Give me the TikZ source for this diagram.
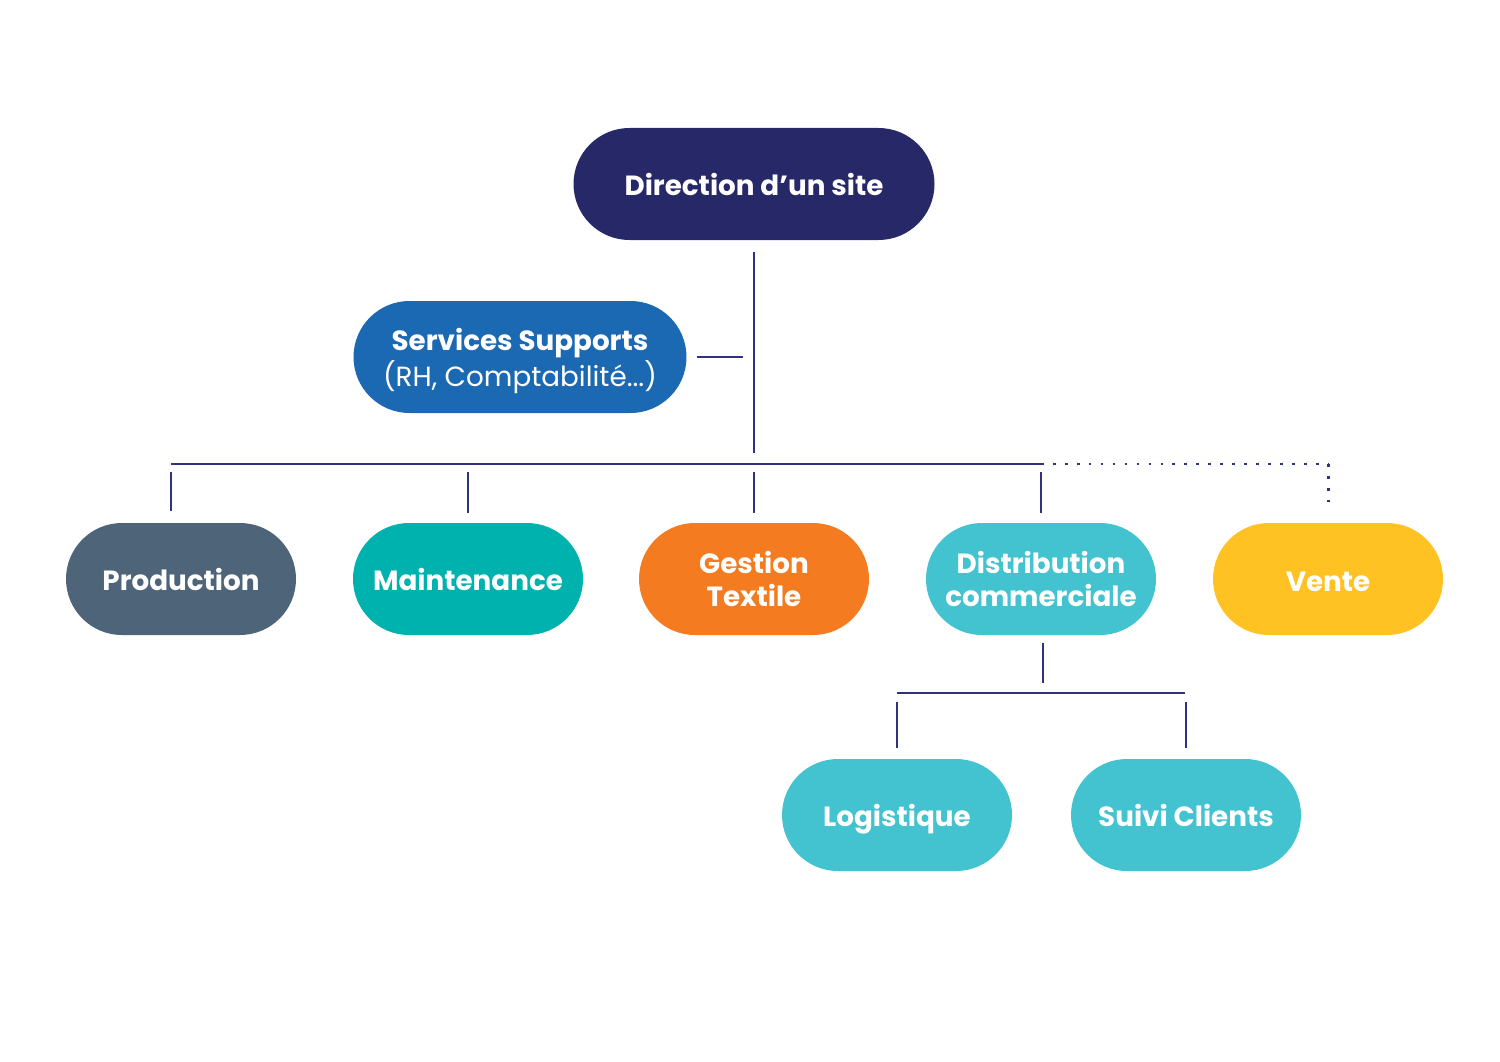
\documentclass[tikz,border=0pt]{standalone}
\usepackage{fontspec}
\setmainfont{Poppins}
\definecolor{navy}{HTML}{262868}
\definecolor{linecol}{HTML}{2E3282}
\definecolor{supblue}{HTML}{1C69B3}
\definecolor{slate}{HTML}{4E6479}
\definecolor{teal}{HTML}{00B2AE}
\definecolor{orangeg}{HTML}{F47B20}
\definecolor{cyanc}{HTML}{43C3CF}
\definecolor{yellowv}{HTML}{FFC222}
\begin{document}
\begin{tikzpicture}
    \tikzstyle{pill}=[rounded corners=1.12cm, minimum height=2.24cm, minimum width=4.6cm, text=white,
                      font=\fontsize{15.8}{19}\selectfont\bfseries, align=center, inner sep=0pt,
                      text depth=0pt]
    \tikzstyle{link}=[draw=linecol, line width=1.1pt]
    \tikzstyle{dots}=[draw=linecol, line width=1.7pt, dash pattern=on 1.5pt off 5.3pt]
    \useasboundingbox[fill=white] (0,0) rectangle (30,-21.22);
    % top
    \node[pill, fill=navy, minimum width=7.22cm] (dir) at (15.08,-3.68) {Direction d'un site};
    \node[pill, fill=supblue, minimum width=6.66cm, font=\fontsize{15.8}{20.4}\selectfont\bfseries] (sup) at (10.40,-7.14)
        {Services Supports\\{\mdseries (RH, Comptabilité...)}};
    % services
    \node[pill, fill=slate] (prod) at (3.62,-11.58) {Production};
    \node[pill, fill=teal] (maint) at (9.36,-11.58) {Maintenance};
    \node[pill, fill=orangeg] (gest) at (15.08,-11.58) {Gestion\\Textile};
    \node[pill, fill=cyanc] (dist) at (20.82,-11.58) {Distribution\\commerciale};
    \node[pill, fill=yellowv, text height=14.6pt] (vente) at (26.56,-11.58) {Vente};
    % sous-services
    \node[pill, fill=cyanc] (log) at (17.94,-16.30) {Logistique};
    \node[pill, fill=cyanc] (suivi) at (23.72,-16.30) {Suivi Clients};
    % lines
    \coordinate (hub) at (15.08,-9.06);
    \coordinate (busL) at (3.42,-9.28);
    \coordinate (busR) at (20.82,-9.28);
    \coordinate (busV) at (26.56,-9.28);
    \coordinate (down) at (20.86,-13.66);
    \coordinate (subL) at (17.94,-13.86);
    \coordinate (subR) at (23.70,-13.86);
    \draw[link] ([yshift=-0.24cm]dir.south) -- (hub);
    \draw[link] ([xshift=0.2cm]sup.east) -- +(0.92,0);
    \draw[link] (busL) -- (busR);
    \draw[dots] (busR) -- (busV);
    \draw[dots] (busV) -- ([yshift=0.26cm]vente.north);
    \draw[link] (busL |- 0,-9.44) -- (busL |- 0,-10.22);
    \foreach \n in {maint,gest,dist}
        \draw[link] (\n.north |- 0,-9.44) -- ([yshift=0.2cm]\n.north);
    \draw[link] (down |- dist.south) ++(0,-0.16) -- (down);
    \draw[link] (subL) -- (subR);
    \foreach \n in {log,suivi}
        \draw[link] (\n.north |- 0,-14.04) -- ([yshift=0.22cm]\n.north);
\end{tikzpicture}
\end{document}
